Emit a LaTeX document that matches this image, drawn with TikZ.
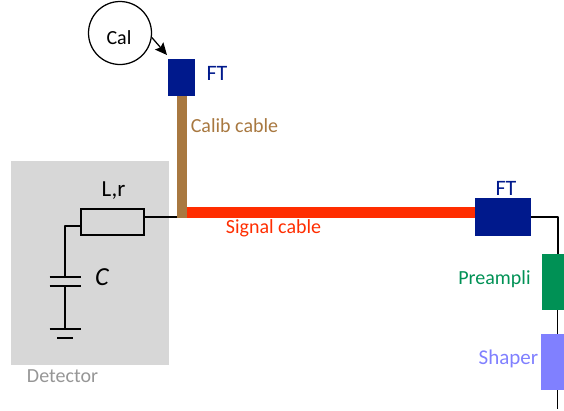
\documentclass[tikz,border=0pt]{standalone}
\usepackage{fontspec}
\setmainfont{Carlito}
\usetikzlibrary{arrows.meta,calc}
\definecolor{ftblue}{RGB}{0,25,140}
\definecolor{brownc}{RGB}{168,120,64}
\definecolor{redc}{RGB}{255,45,0}
\definecolor{greenc}{RGB}{0,145,85}
\definecolor{shaperc}{RGB}{128,128,255}
\definecolor{grayc}{RGB}{215,215,215}
\definecolor{detc}{RGB}{150,150,150}
\tikzset{
 block/.style={inner sep=0pt,outer sep=0pt,minimum width=#1},
 wire/.style={line width=1.25pt,black,line join=round},
 lab/.style={inner sep=0pt,font=\fontsize{20}{22}\selectfont},
}
\begin{document}
\begin{tikzpicture}[x=1pt,y=-1pt]
\useasboundingbox (0,0) rectangle (564,410);
\node[block=158pt,minimum height=204pt,fill=grayc] (det) at (90,263) {};
\node[block=10pt,minimum height=122pt,fill=brownc] (calib) at (182,157) {};
\node[block=288pt,minimum height=11pt,fill=redc] (sig) at (331,212.5) {};
\node[block=27pt,minimum height=37pt,fill=ftblue] (fta) at (181.5,77.5) {};
\node[block=56pt,minimum height=38pt,fill=ftblue] (ftb) at (503,217) {};
\node[block=24pt,minimum height=56pt,fill=greenc] (pre) at (554,282) {};
\node[block=25pt,minimum height=56pt,fill=shaperc] (sha) at (553.5,362) {};
\node[block=63pt,minimum height=26pt,draw=black,line width=1.25pt] (res) at (112.5,222) {};
\node[circle,draw=black,line width=1.25pt,minimum size=63pt,inner sep=0pt] (cal) at (120,33) {};
\node[lab,text=black] (caltext) at (119,38) {Cal};
\coordinate (junc) at (177,217);
\coordinate (bend) at (65,226);
\coordinate (capa) at (65,277);
\coordinate (capb) at (65,286);
\coordinate (gnd) at (65,329);
\coordinate (gndb) at (65,338);
\coordinate (endw) at (557.5,409);
\coordinate (arrowend) at (167,55);
\draw[wire] (res.east |- junc) -- (junc);
\draw[wire] (res.west |- bend) -- (bend) -- (capa);
\draw[wire] ($(capa)+(-15.5,0)$) -- ($(capa)+(15.5,0)$);
\draw[wire] ($(capb)+(-15.5,0)$) -- ($(capb)+(15.5,0)$);
\draw[wire] (capb) -- (gnd);
\draw[wire] ($(gnd)+(-15.5,0)$) -- ($(gnd)+(15.5,0)$);
\draw[wire] ($(gndb)+(-8,0)$) -- ($(gndb)+(8,0)$);
\draw[wire] (ftb.east) -- (558,217) -- (558,254);
\draw[wire] (557.5,310) -- (557.5,334);
\draw[wire] (557.5,390) -- (endw);
\draw[wire,-{Stealth[length=12pt,width=11pt,inset=2pt]}] (cal.-8) -- (arrowend);
\node[lab,text=black,font=\fontsize{23}{25}\selectfont] (lr) at (113.5,191) {L,r};
\node[lab,text=black,font=\fontsize{26}{28}\selectfont\itshape] (cl) at (102,277) {C};
\node[lab,text=detc] (dl) at (62.5,376) {Detector};
\node[lab,text=ftblue,font=\fontsize{22}{24}\selectfont] (fl) at (217,73) {FT};
\node[lab,text=brownc] (cc) at (234.5,126) {Calib cable};
\node[lab,text=redc] (sc) at (273.5,228) {Signal cable};
\node[lab,text=ftblue,font=\fontsize{22}{24}\selectfont] (fr) at (506,188) {FT};
\node[lab,text=greenc] (pl) at (494.5,279) {Preampli};
\node[lab,text=shaperc,font=\fontsize{21}{23}\selectfont] (sl) at (508.5,359) {Shaper};
\end{tikzpicture}
\end{document}
